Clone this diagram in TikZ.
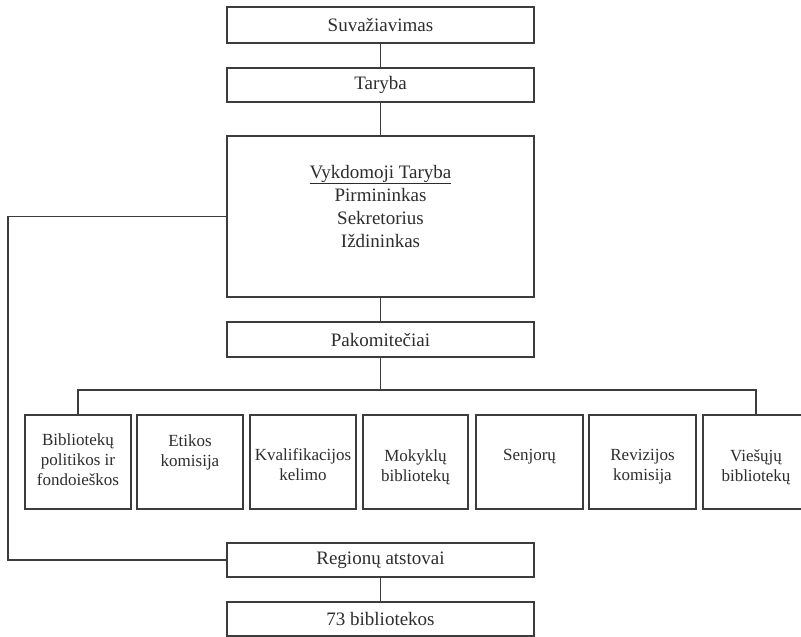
\documentclass[tikz,border=0pt]{standalone}
\usepackage{fontspec}
\setmainfont{Liberation Serif}
\definecolor{ink}{RGB}{60,60,60}
\definecolor{txt}{RGB}{45,45,45}
\begin{document}
\begin{tikzpicture}[x=1pt,y=-1pt,
  box/.style={draw=ink,line width=1.1pt,rectangle,inner sep=0pt,minimum width=307pt},
  sbox/.style={draw=ink,line width=1.1pt,rectangle,inner sep=0pt,minimum width=106pt,minimum height=94pt},
  big/.style={text=txt,font=\fontsize{19}{23}\selectfont,align=center,inner sep=0pt},
  small/.style={text=txt,font=\fontsize{17}{20}\selectfont,align=center,inner sep=0pt},
  conn/.style={draw=ink,line width=1.1pt}]
\useasboundingbox (0,0) rectangle (801,637);
\fill[white] (0,0) rectangle (801,637);
\clip (0,0) rectangle (801,637);

% main column
\node[box,minimum height=36pt,big] (suv) at (380.5,25) {Suvažiavimas};
\node[box,minimum height=34pt,big] (tar) at (380.5,85) {Taryba};
\node[box,minimum height=161pt] (vyk) at (380.5,216.5) {};
\node[big] (vyktxt) at (380.5,206) {\underline{Vykdomoji Taryba}\\Pirmininkas\\Sekretorius\\Iždininkas};
\node[box,minimum height=35pt,big] (pak) at (380.5,339.5) {Pakomitečiai};
\node[box,minimum height=34pt,big] (reg) at (380.5,560) {Regionų atstovai};
\node[box,minimum height=34pt,big] (b73) at (380.5,619) {73 bibliotekos};

% committees
\node[sbox] (k1) at (78,462) {};
\node[sbox] (k2) at (190,462) {};
\node[sbox] (k3) at (303,462) {};
\node[sbox,minimum width=105pt] (k4) at (415.5,462) {};
\node[sbox,minimum width=107pt] (k5) at (529.5,462) {};
\node[sbox,minimum width=107pt] (k6) at (642.5,462) {};
\node[sbox] (k7) at (756,462) {};

\node[small] (t1) at (78,460) {Bibliotekų\\politikos ir\\fondoieškos};
\node[small] (t2) at (190,452) {Etikos\\komisija};
\node[small] (t3) at (303,465) {Kvalifikacijos\\kelimo};
\node[small] (t4) at (415.5,467) {Mokyklų\\bibliotekų};
\node[small] (t5) at (529.5,457) {Senjorų};
\node[small] (t6) at (642.5,467) {Revizijos\\komisija};
\node[small] (t7) at (756,467) {Viešųjų\\bibliotekų};

% connectors
\coordinate (bus) at (380.5,390);
\coordinate (lx) at (8,0);
\draw[conn] (suv) -- (tar);
\draw[conn] (tar) -- (vyk);
\draw[conn] (vyk) -- (pak);
\draw[conn] (pak.south) -- (bus);
\draw[conn] (k1.north) |- (bus) -| (k7.north);
\draw[conn] (vyk.west) -- (vyk.west -| lx) |- (reg.west);
\draw[conn] (reg) -- (b73);
\end{tikzpicture}
\end{document}
